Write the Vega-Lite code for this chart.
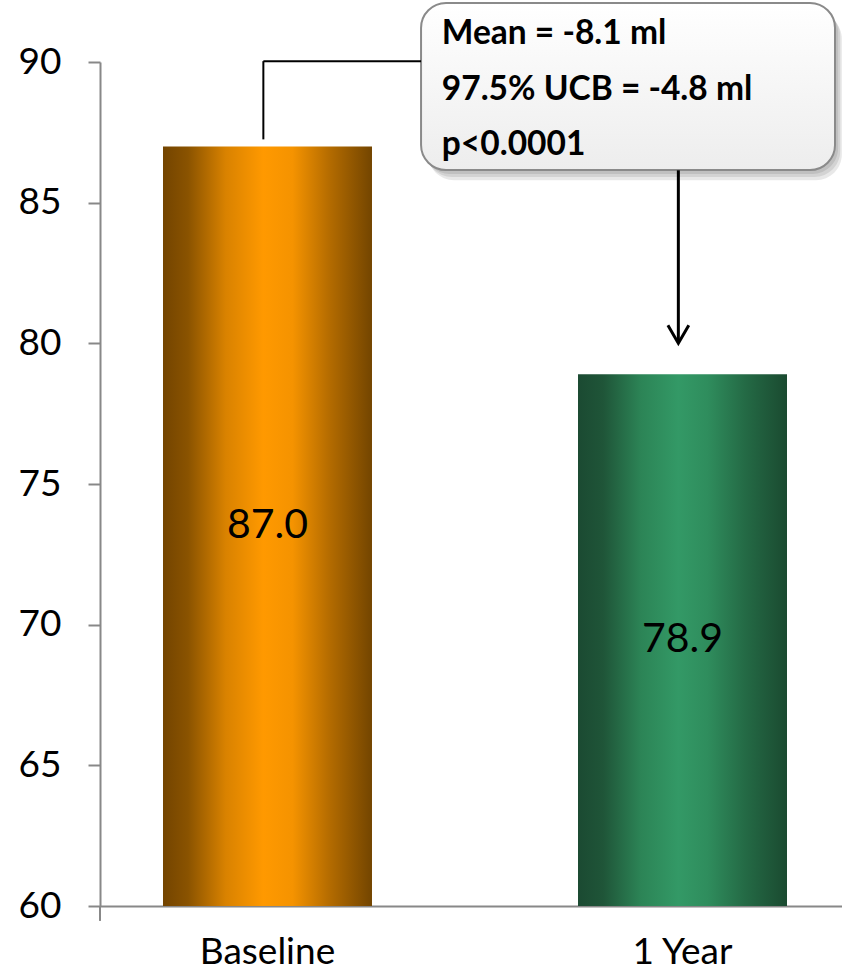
{
  "$schema": "https://vega.github.io/schema/vega-lite/v6.json",
  "width": 742,
  "height": 844,
  "autosize": {"type": "none"},
  "padding": {"left": 100, "top": 62, "right": 0, "bottom": 62},
  "background": "white",
  "config": {"view": {"stroke": null}, "font": "Lato"},
  "data": {
    "values": [
      {"visit": "Baseline", "volume": 87.0},
      {"visit": "1 Year", "volume": 78.9}
    ]
  },
  "resolve": {"scale": {"x": "independent", "y": "independent"}},
  "layer": [
    {
      "mark": {"type": "bar"},
      "encoding": {
        "x": {
          "field": "visit",
          "type": "nominal",
          "sort": ["Baseline", "1 Year"],
          "scale": {"type": "band", "range": [0, 750], "paddingInner": 0.4964, "paddingOuter": 0.1518},
          "axis": {
            "title": null,
            "ticks": false,
            "labelAngle": 0,
            "domainColor": "#888888",
            "domainWidth": 2,
            "labelFont": "Lato",
            "labelFontSize": 37,
            "labelColor": "#000000",
            "labelPadding": 28
          }
        },
        "y": {
          "field": "volume",
          "type": "quantitative",
          "scale": {"domain": [60, 90], "nice": false, "zero": false},
          "axis": {
            "title": null,
            "grid": false,
            "values": [60, 65, 70, 75, 80, 85, 90],
            "domainColor": "#888888",
            "domainWidth": 2,
            "tickColor": "#888888",
            "tickWidth": 2,
            "tickSize": 12,
            "labelFont": "Lato",
            "labelFontSize": 37,
            "labelColor": "#000000",
            "labelPadding": 27,
            "labelFlush": false,
            "labelOverlap": false
          }
        },
        "y2": {"datum": 60},
        "fill": {
          "condition": {
            "test": "datum.visit === 'Baseline'",
            "value": {
              "gradient": "linear", "x1": 0, "x2": 1, "y1": 0, "y2": 0,
              "stops": [
                {"offset": 0, "color": "#734400"},
                {"offset": 0.12, "color": "#8a5300"},
                {"offset": 0.3, "color": "#d98200"},
                {"offset": 0.48, "color": "#ff9900"},
                {"offset": 0.62, "color": "#f59300"},
                {"offset": 0.8, "color": "#b36b00"},
                {"offset": 1, "color": "#734500"}
              ]
            }
          },
          "value": {
            "gradient": "linear", "x1": 0, "x2": 1, "y1": 0, "y2": 0,
            "stops": [
              {"offset": 0, "color": "#1b4a32"},
              {"offset": 0.12, "color": "#1f5538"},
              {"offset": 0.3, "color": "#2c8456"},
              {"offset": 0.48, "color": "#339966"},
              {"offset": 0.62, "color": "#2f8d5d"},
              {"offset": 0.8, "color": "#246a45"},
              {"offset": 1, "color": "#1a4a30"}
            ]
          }
        }
      }
    },
    {
      "mark": {"type": "text", "font": "Lato", "fontSize": 41, "color": "#000000", "align": "center", "baseline": "middle"},
      "encoding": {
        "x": {
          "field": "visit",
          "type": "nominal",
          "sort": ["Baseline", "1 Year"],
          "scale": {"type": "band", "range": [0, 750], "paddingInner": 0.4964, "paddingOuter": 0.1518},
          "axis": null
        },
        "y": {
          "field": "volume",
          "type": "quantitative",
          "scale": {"domain": [60, 120], "nice": false, "zero": false},
          "axis": null
        },
        "text": {"field": "volume", "type": "quantitative", "format": ".1f"}
      }
    },
    {
      "data": {"values": [{}]},
      "mark": {"type": "rule", "color": "#888888", "strokeWidth": 2},
      "encoding": {
        "x": {"datum": 0.5964, "type": "quantitative", "scale": {"domain": [0.5, 2.5], "range": [-40, 790], "nice": false, "zero": false}, "axis": null},
        "y": {"datum": 60, "type": "quantitative", "scale": {"domain": [60, 90], "nice": false, "zero": false}, "axis": null},
        "y2": {"datum": 59.47}
      }
    },
    {
      "data": {"values": [{}]},
      "mark": {"type": "rect", "fill": "#000000", "opacity": 0.09, "cornerRadius": 26},
      "encoding": {
        "x": {"datum": 1.377, "type": "quantitative", "scale": {"domain": [0.5, 2.5], "range": [-40, 790], "nice": false, "zero": false}, "axis": null},
        "x2": {"datum": 2.375},
        "y": {"datum": 91.96, "type": "quantitative", "scale": {"domain": [60, 90], "nice": false, "zero": false}, "axis": null},
        "y2": {"datum": 86.02}
      }
    },
    {
      "data": {"values": [{}]},
      "mark": {"type": "rect", "fill": "#000000", "opacity": 0.09, "cornerRadius": 26},
      "encoding": {
        "x": {"datum": 1.382, "type": "quantitative", "scale": {"domain": [0.5, 2.5], "range": [-40, 790], "nice": false, "zero": false}, "axis": null},
        "x2": {"datum": 2.38},
        "y": {"datum": 91.85, "type": "quantitative", "scale": {"domain": [60, 90], "nice": false, "zero": false}, "axis": null},
        "y2": {"datum": 85.91}
      }
    },
    {
      "data": {"values": [{}]},
      "mark": {"type": "rect", "fill": "#000000", "opacity": 0.09, "cornerRadius": 26},
      "encoding": {
        "x": {"datum": 1.387, "type": "quantitative", "scale": {"domain": [0.5, 2.5], "range": [-40, 790], "nice": false, "zero": false}, "axis": null},
        "x2": {"datum": 2.384},
        "y": {"datum": 91.74, "type": "quantitative", "scale": {"domain": [60, 90], "nice": false, "zero": false}, "axis": null},
        "y2": {"datum": 85.8}
      }
    },
    {
      "data": {"values": [{}]},
      "mark": {
        "type": "rect",
        "cornerRadius": 25,
        "stroke": "#8a8a8a",
        "strokeWidth": 2,
        "fill": {
          "gradient": "linear", "x1": 0, "x2": 0, "y1": 0, "y2": 1,
          "stops": [
            {"offset": 0, "color": "#ffffff"},
            {"offset": 1, "color": "#ededed"}
          ]
        }
      },
      "encoding": {
        "x": {"datum": 1.37, "type": "quantitative", "scale": {"domain": [0.5, 2.5], "range": [-40, 790], "nice": false, "zero": false}, "axis": null},
        "x2": {"datum": 2.3675},
        "y": {"datum": 92.1, "type": "quantitative", "scale": {"domain": [60, 90], "nice": false, "zero": false}, "axis": null},
        "y2": {"datum": 86.16}
      }
    },
    {
      "data": {"values": [{}]},
      "mark": {"type": "text", "font": "Lato", "fontWeight": "bold", "fontSize": 33.5, "lineHeight": 55.5, "align": "left", "baseline": "alphabetic", "color": "#000000"},
      "encoding": {
        "x": {"datum": 1.42, "type": "quantitative", "scale": {"domain": [0.5, 2.5], "range": [-40, 790], "nice": false, "zero": false}, "axis": null},
        "y": {"datum": 90.63, "type": "quantitative", "scale": {"domain": [60, 90], "nice": false, "zero": false}, "axis": null},
        "text": {"value": ["Mean = -8.1 ml", "97.5% UCB = -4.8 ml", "p<0.0001"]}
      }
    },
    {
      "data": {"values": [{}]},
      "mark": {"type": "rule", "color": "#000000", "strokeWidth": 2},
      "encoding": {
        "x": {"datum": 0.99, "type": "quantitative", "scale": {"domain": [0.5, 2.5], "range": [-40, 790], "nice": false, "zero": false}, "axis": null},
        "y": {"datum": 87.25, "type": "quantitative", "scale": {"domain": [60, 90], "nice": false, "zero": false}, "axis": null},
        "y2": {"datum": 90.03}
      }
    },
    {
      "data": {"values": [{}]},
      "mark": {"type": "rule", "color": "#000000", "strokeWidth": 2},
      "encoding": {
        "x": {"datum": 0.99, "type": "quantitative", "scale": {"domain": [0.5, 2.5], "range": [-40, 790], "nice": false, "zero": false}, "axis": null},
        "x2": {"datum": 1.37},
        "y": {"datum": 90.03, "type": "quantitative", "scale": {"domain": [60, 90], "nice": false, "zero": false}, "axis": null}
      }
    },
    {
      "data": {"values": [{}]},
      "mark": {"type": "rule", "color": "#000000", "strokeWidth": 3},
      "encoding": {
        "x": {"datum": 1.99, "type": "quantitative", "scale": {"domain": [0.5, 2.5], "range": [-40, 790], "nice": false, "zero": false}, "axis": null},
        "y": {"datum": 86.15, "type": "quantitative", "scale": {"domain": [60, 90], "nice": false, "zero": false}, "axis": null},
        "y2": {"datum": 80.05}
      }
    },
    {
      "data": {"values": [{}]},
      "mark": {"type": "point", "shape": "M -0.58 -1 L 0 0 L 0.58 -1", "size": 1296, "filled": false, "stroke": "#000000", "strokeWidth": 3, "opacity": 1},
      "encoding": {
        "x": {"datum": 1.99, "type": "quantitative", "scale": {"domain": [0.5, 2.5], "range": [-40, 790], "nice": false, "zero": false}, "axis": null},
        "y": {"datum": 80.0, "type": "quantitative", "scale": {"domain": [60, 90], "nice": false, "zero": false}, "axis": null}
      }
    }
  ]
}
